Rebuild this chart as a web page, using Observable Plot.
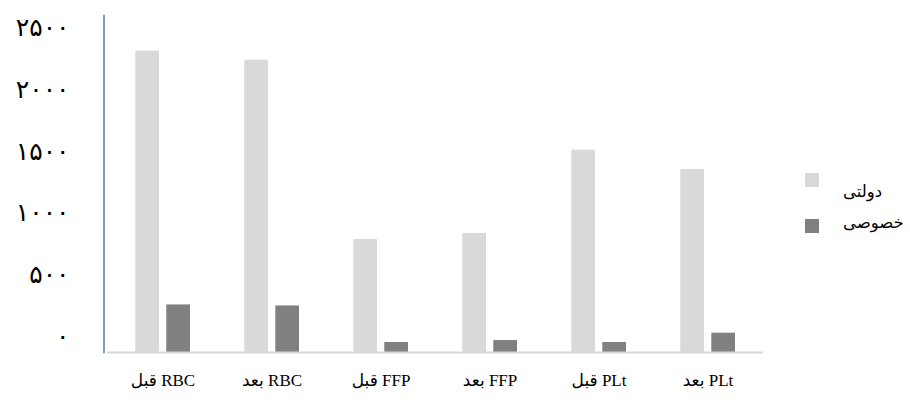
<!DOCTYPE html>
<html>
<head>
<meta charset="utf-8">
<script src="https://cdn.jsdelivr.net/npm/d3@7"></script>
<script src="https://cdn.jsdelivr.net/npm/@observablehq/plot@0.6"></script>
<style>
  html, body { margin: 0; padding: 0; background: #fff; }
  #wrap { position: relative; width: 910px; height: 405px; }
  .sw { position: absolute; width: 14px; height: 14px; }
  .lt { position: absolute; left: 843px; font-family: "Liberation Serif", "DejaVu Sans", serif; font-size: 16.5px; line-height: 1; color: #000; white-space: nowrap; }
</style>
</head>
<body>
<div id="wrap">
  <div id="chart"></div>
</div>
<script>
const categories = ["RBC قبل", "RBC بعد", "FFP قبل", "FFP بعد", "PLt قبل", "PLt بعد"];
const seriesNames = ["دولتی", "خصوصی"];
const govValues = [2446, 2373, 917, 966, 1642, 1485];
const privValues = [386, 378, 81, 97, 81, 157];
const yTicks = [0, 500, 1000, 1500, 2000, 2500];
const colors = ["#d9d9d9", "#808080"];

const toPersian = n => String(n).replace(/[0-9]/g, d => "۰۱۲۳۴۵۶۷۸۹"[+d]);
// Right-to-left embedding so the Persian labels read as in the original
const rtl = s => "\u202B" + s + "\u202C";

const rows = categories.map((c, i) => ({cat: c, gov: govValues[i], priv: privValues[i]}));

const chart = Plot.plot({
  width: 910,
  height: 405,
  marginLeft: 107,
  marginRight: 147,
  marginTop: 15,
  marginBottom: 53,
  style: {background: "#fff", fontFamily: "'Liberation Serif', 'DejaVu Sans', serif"},
  x: {domain: categories, padding: 0, label: null},
  y: {domain: [0, 2735], label: null},
  marks: [
    Plot.barY(rows, {x: "cat", y: "gov", fill: colors[0], insetLeft: 27.3, insetRight: 58}),
    Plot.barY(rows, {x: "cat", y: "priv", fill: colors[1], insetLeft: 58.3, insetRight: 27}),
    Plot.ruleY([0], {stroke: "#d9d9d9", strokeWidth: 2}),
    Plot.frame({anchor: "left", stroke: "#4f81bd", strokeWidth: 1.5, dx: -3.5}),
    Plot.axisY({ticks: yTicks, tickSize: 0, tickPadding: 38, tickFormat: toPersian, fontSize: 25, dy: -16, label: null}),
    Plot.axisX({tickSize: 0, tickPadding: 21, fontSize: 17, tickFormat: rtl, label: null})
  ]
});
const wrap = document.getElementById("wrap");
document.getElementById("chart").appendChild(chart);

const swTops = [173, 219];
const txTops = [184, 215];
seriesNames.forEach((name, i) => {
  const sw = document.createElement("div");
  sw.className = "sw";
  sw.style.left = "805px";
  sw.style.top = swTops[i] + "px";
  sw.style.background = colors[i];
  wrap.appendChild(sw);
  const tx = document.createElement("div");
  tx.className = "lt";
  tx.style.top = txTops[i] + "px";
  tx.textContent = name;
  wrap.appendChild(tx);
});
</script>
</body>
</html>
